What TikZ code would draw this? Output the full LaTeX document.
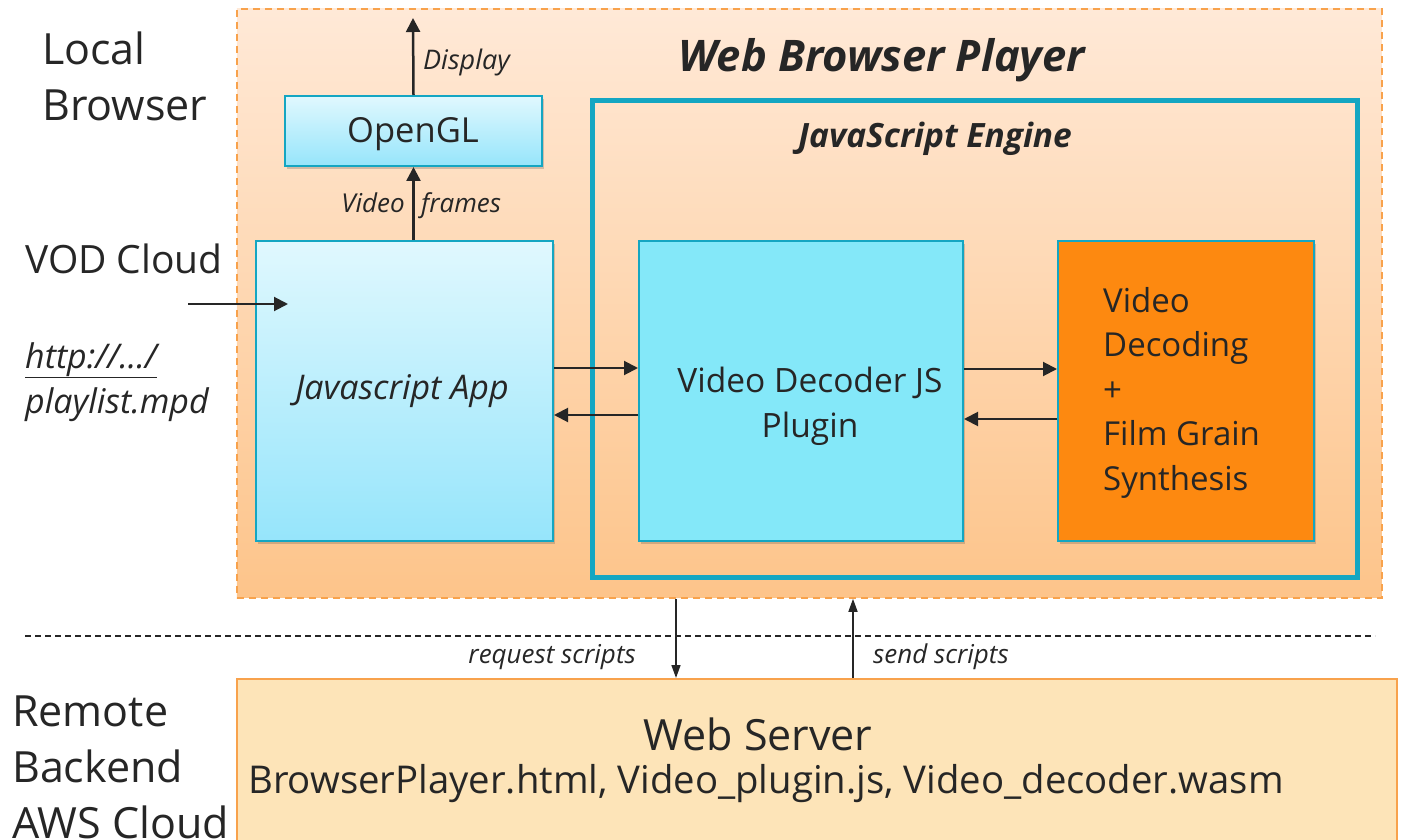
\documentclass[tikz,border=0pt]{standalone}
\usepackage{fontspec}
\setmainfont{Open Sans}
\usetikzlibrary{arrows.meta,shadows}
\definecolor{teal}{HTML}{14A6C2}
\definecolor{peachtop}{HTML}{FFE9D7}
\definecolor{peachbot}{HTML}{FDC48A}
\definecolor{orline}{HTML}{F8A24C}
\definecolor{cyantop}{HTML}{E0F8FE}
\definecolor{cyanbot}{HTML}{96E5FB}
\definecolor{plugin}{HTML}{84E8F9}
\definecolor{orbox}{HTML}{FD8910}
\definecolor{server}{HTML}{FDE4B8}
\definecolor{ink}{HTML}{262626}
\tikzset{
  shad/.style={drop shadow={shadow xshift=2pt,shadow yshift=-3pt,opacity=0.25,fill=black!70}},
  gradbox/.style={draw=teal,line width=2pt,top color=cyantop,bottom color=cyanbot,shad,inner sep=0pt},
  flatbox/.style={draw=teal,line width=2pt,shad,inner sep=0pt},
  arr/.style={draw=ink,line width=2.5pt,-{Triangle[length=14pt,width=14pt]}},
  thinarr/.style={draw=ink,line width=1.6pt,-{Triangle[length=13pt,width=9pt]}},
  lbl/.style={text=ink,inner sep=0pt},
}
\begin{document}
\begin{tikzpicture}[x=1pt,y=-1pt]
\useasboundingbox (0,0) rectangle (1401,840);
% outer browser region
\node[draw=orline,line width=1.8pt,dash pattern=on 7pt off 5pt,top color=peachtop,bottom color=peachbot,minimum width=1145pt,minimum height=589pt,anchor=north west,inner sep=0pt] (browser) at (236,8) {};
% JS engine
\node[draw=teal,line width=5pt,minimum width=765pt,minimum height=477pt,anchor=north west,inner sep=0pt] (engine) at (590,98) {};
% titles
\node[lbl,anchor=base,font=\fontsize{43.5}{50}\selectfont\bfseries\itshape] (title) at (882,72) {Web Browser Player};
\node[lbl,anchor=base,font=\fontsize{33.5}{40}\selectfont\bfseries\itshape] (engt) at (935,148) {JavaScript Engine};
% boxes
\node[gradbox,minimum width=257pt,minimum height=70pt,anchor=north west] (ogl) at (284,95) {};
\node[lbl,anchor=base,font=\fontsize{34.5}{40}\selectfont] (ogltxt) at (413,143) {OpenGL};
\node[gradbox,minimum width=297pt,minimum height=300pt,anchor=north west] (app) at (255,240) {};
\node[lbl,anchor=base,font=\fontsize{34}{40}\selectfont\itshape] (apptxt) at (402,399) {Javascript App};
\node[flatbox,fill=plugin,minimum width=324pt,minimum height=300pt,anchor=north west] (plug) at (638,240) {};
\node[lbl,align=center,anchor=base,font=\fontsize{33.5}{45}\selectfont] (plugtxt) at (810,437) {Video Decoder JS\\Plugin};
\node[flatbox,fill=orbox,minimum width=256pt,minimum height=300pt,anchor=north west] (dec) at (1057,240) {};
\node[lbl,align=left,anchor=base west,font=\fontsize{33}{44.5}\selectfont] (dectxt) at (1103,490) {Video\\Decoding\\+\\Film Grain\\Synthesis};
% server
\node[draw=orline,line width=1.8pt,fill=server,minimum width=1160pt,minimum height=170pt,anchor=north west,inner sep=0pt] (server) at (236,678) {};
\node[lbl,anchor=base,font=\fontsize{43}{50}\selectfont] (srvt) at (758,750) {Web Server};
\node[lbl,anchor=base west,font=\fontsize{38.3}{44}\selectfont] (srvf) at (248,793) {BrowserPlayer.html, Video\_plugin.js, Video\_decoder.wasm};
% left labels
\node[lbl,align=left,anchor=base west,font=\fontsize{43}{56}\selectfont] (local) at (42,121) {Local\\Browser};
\node[lbl,anchor=base west,font=\fontsize{39}{46}\selectfont] (vod) at (25,273) {VOD Cloud};
\node[lbl,anchor=base west,font=\fontsize{34}{45}\selectfont\itshape,align=left] (url) at (25,413) {\underline{http://.../}\\playlist.mpd};
\node[lbl,align=left,anchor=base west,font=\fontsize{43}{56}\selectfont] (remote) at (12,838) {Remote\\Backend\\AWS Cloud};
% separator
\coordinate (sepL) at (25,636);
\coordinate (sepR) at (1375,636);
\draw[ink,line width=1.3pt,dash pattern=on 6pt off 4pt] (sepL) -- (sepR);
% arrows
\coordinate (disp) at (413,18);
\draw[arr] (ogl.north) -- (disp);
\node[lbl,anchor=base west,font=\fontsize{27}{32}\selectfont\itshape] (disptxt) at (423,70) {Display};
\draw[arr] (app.north -| ogl.south) -- (ogl.south);
\node[lbl,anchor=base east,font=\fontsize{26}{30}\selectfont\itshape] (vf1) at (405,212) {Video};
\node[lbl,anchor=base west,font=\fontsize{26}{30}\selectfont\itshape] (vf2) at (421,212) {frames};
\coordinate (vodS) at (188,304);
\coordinate (vodE) at (288,304);
\draw[arr,line width=2pt] (vodS) -- (vodE);
\draw[arr,line width=2pt] (app.east |- 0,368) -- (plug.west |- 0,368);
\draw[arr,line width=2pt] (plug.west |- 0,415) -- (app.east |- 0,415);
\draw[arr,line width=2pt] (plug.east |- 0,369) -- (dec.west |- 0,369);
\draw[arr,line width=2pt] (dec.west |- 0,419) -- (plug.east |- 0,419);
\draw[thinarr] (browser.south -| 676,0) -- (server.north -| 676,0);
\draw[thinarr] (server.north -| 853,0) -- (browser.south -| 853,0);
\node[lbl,anchor=base east,font=\fontsize{26}{30}\selectfont\itshape] (req) at (636,663) {request scripts};
\node[lbl,anchor=base west,font=\fontsize{26}{30}\selectfont\itshape] (send) at (873,663) {send scripts};
\end{tikzpicture}
\end{document}
